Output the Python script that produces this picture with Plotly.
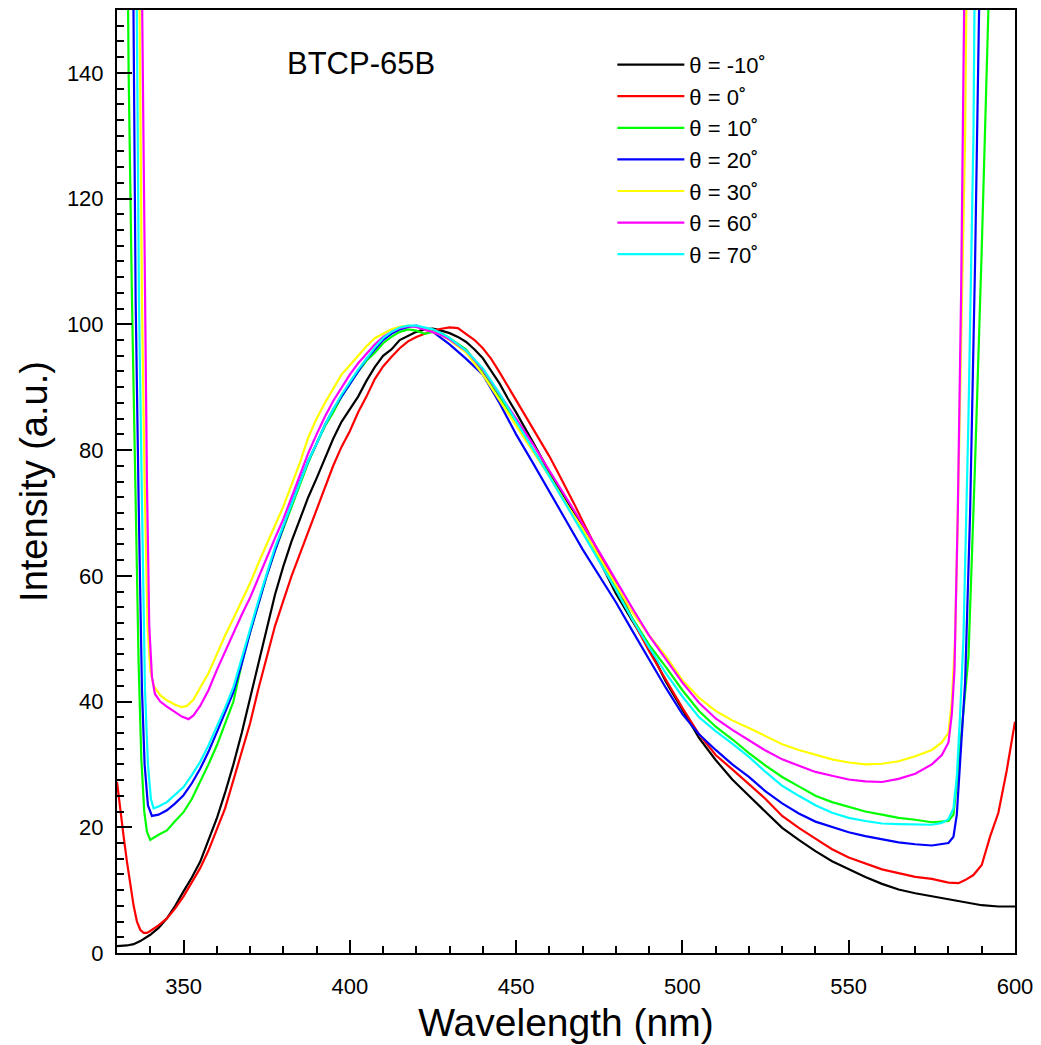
import plotly.graph_objects as go

# ---- data ----
labels = ["θ = -10˚", "θ = 0˚", "θ = 10˚", "θ = 20˚", "θ = 30˚", "θ = 60˚", "θ = 70˚"]
colors = ["#000000", "#ff0000", "#00ff00", "#0000ff", "#ffff00", "#ff00ff", "#00ffff"]

wl_m10 = [330, 333, 335, 337, 340, 342.5, 345, 347.5, 350, 352.5, 355, 357.5, 360, 362.5, 365, 367.5, 370, 372.5, 375, 377.5,
          380, 382.5, 385, 387.5, 390, 392.5, 395, 397.5, 400, 402.5, 405, 407.5, 410, 412.5, 415, 417.5, 420, 422.5, 425,
          427.5, 430, 432.5, 435, 437.5, 440, 442.5, 445, 447.5, 450, 455, 460, 465, 470, 475, 480, 485, 490, 495, 500,
          505, 510, 515, 520, 525, 530, 535, 540, 545, 550, 555, 560, 565, 570, 575, 580, 585, 590, 595, 600]
int_m10 = [1.1, 1.2, 1.4, 1.9, 2.9, 4.0, 5.5, 7.5, 9.8, 12.0, 14.5, 17.8, 21.4, 25.5, 30.0, 35.0, 40.4, 45.6, 51.5, 57.0,
           61.5, 65.5, 69.0, 72.5, 75.5, 78.8, 81.8, 84.5, 86.5, 88.5, 91.0, 93.2, 95.0, 96.0, 97.5, 98.2, 98.8, 99.2, 99.3,
           99.0, 98.6, 98.0, 97.2, 96.0, 94.6, 92.6, 90.6, 88.2, 86.0, 81.3, 76.5, 72.2, 67.8, 62.5, 57.2, 52.8, 48.5, 43.2, 38.6,
           34.2, 30.7, 27.6, 25.0, 22.4, 19.9, 18.0, 16.2, 14.6, 13.3, 12.1, 11.0, 10.1, 9.5, 9.0, 8.5, 8.0, 7.6, 7.4, 7.4]

wl_0 = [330, 331, 332, 333, 334, 335, 336, 337, 338, 339, 340, 342.5, 345, 347.5, 350, 352.5, 355, 357.5, 360, 362.5, 365,
        367.5, 370, 372.5, 375, 377.5, 380, 382.5, 385, 387.5, 390, 392.5, 395, 397.5, 400, 402.5, 405, 407.5, 410, 412.5,
        415, 417.5, 420, 422.5, 425, 427.5, 430, 432.5, 435, 437.5, 440, 442.5, 445, 447.5, 450, 452.5, 455, 457.5, 460,
        462.5, 465, 467.5, 470, 475, 480, 485, 490, 495, 500, 505, 510, 515, 520, 525, 530, 535, 540, 545, 550, 555, 560,
        565, 570, 575, 580, 583, 585, 587.5, 590, 592.5, 595, 597.5, 600]
int_0 = [27.2, 22.5, 18.5, 14.5, 10.8, 7.5, 5.0, 3.7, 3.2, 3.2, 3.5, 4.4, 5.5, 7.1, 9.0, 11.2, 13.5, 16.3, 19.5, 23.0, 27.5,
         31.8, 36.5, 42.0, 47.0, 52.0, 56.0, 60.0, 63.5, 67.0, 70.5, 74.0, 77.5, 80.5, 83.0, 86.0, 88.5, 91.3, 93.3, 94.8,
         96.2, 97.3, 98.0, 98.5, 99.0, 99.3, 99.5, 99.4, 98.5, 97.5, 96.2, 94.5, 92.4, 90.2, 88.0, 85.8, 83.6, 81.3, 79.0,
         76.5, 74.0, 71.4, 68.7, 63.5, 58.8, 53.0, 48.0, 43.5, 39.0, 34.8, 31.5, 29.2, 26.8, 24.5, 21.8, 19.9, 18.2, 16.5, 15.2,
         14.2, 13.3, 12.7, 12.1, 11.8, 11.2, 11.1, 11.6, 12.4, 14.0, 18.5, 22.3, 29.0, 36.8]

wl_10 = [333.0, 333.5, 334.5, 335.5, 336.5, 337.3, 338.2, 339, 340, 342.5, 345, 347.5, 350, 352.5, 355, 357.5, 360, 362.5,
         365, 367.5, 370, 372.5, 375, 377.5, 380, 382.5, 385, 387.5, 390, 392.5, 395, 397.5, 400, 402.5, 405, 407.5, 410,
         412.5, 415, 417.5, 420, 422.5, 425, 427.5, 430, 435, 440, 445, 450, 455, 460, 465, 470, 475, 480, 485, 490, 495,
         500, 505, 510, 515, 520, 525, 530, 535, 540, 545, 550, 555, 560, 565, 570, 575, 580, 581.5, 582.5, 584, 586, 588,
         590, 592, 593]
int_10 = [170, 140, 104, 75, 46, 31, 22.5, 19.3, 18.0, 18.8, 19.5, 21.0, 22.4, 24.5, 27.2, 30.0, 33.0, 36.5,
          40.0, 46.0, 51.0, 55.5, 60.0, 64.0, 67.5, 71.0, 74.5, 78.0, 81.0, 83.8, 86.0, 88.5, 90.5, 92.5, 94.2, 95.5, 97.0,
          98.0, 98.8, 99.2, 99.0, 98.5, 98.8, 98.6, 97.8, 96.0, 92.5, 88.5, 84.5, 80.2, 76.0, 71.5, 67.0, 62.5, 58.0, 53.2,
          49.0, 45.5, 41.8, 38.5, 36.0, 34.0, 31.8, 29.8, 28.0, 26.5, 25.0, 24.0, 23.2, 22.5, 22.0, 21.5, 21.2, 20.8, 21.0,
          22.0, 27.0, 36.0, 47.0, 78.0, 112, 150, 175]

wl_20 = [334.6, 335.2, 335.6, 336.5, 337.5, 338.3, 339.3, 340.5, 342.5, 345, 347.5, 350, 352.5, 355, 357.5, 360, 362.5, 365,
         367.5, 370, 372.5, 375, 377.5, 380, 382.5, 385, 387.5, 390, 392.5, 395, 397.5, 400, 402.5, 405, 407.5, 410, 412.5,
         415, 417.5, 420, 422.5, 425, 427.5, 430, 435, 440, 445, 450, 455, 460, 465, 470, 475, 480, 485, 490, 495, 500, 505,
         510, 515, 520, 525, 530, 535, 540, 545, 550, 555, 560, 565, 570, 575, 580, 581.5, 582.5, 583.5, 585, 586.5, 588,
         589.2, 589.8]
int_20 = [175, 140, 104, 72, 42, 30, 23.5, 21.8, 22.0, 22.7, 23.8, 25.1, 27.0, 29.3, 32.0, 35.1, 38.2, 41.5,
          46.0, 51.0, 55.5, 60.0, 64.0, 67.8, 71.5, 75.0, 78.3, 81.0, 84.0, 86.5, 88.5, 90.5, 92.5, 94.5, 96.0, 97.5, 98.5,
          99.2, 99.6, 99.8, 99.3, 98.8, 97.8, 96.8, 94.5, 92.0, 87.5, 82.5, 78.0, 73.5, 68.8, 64.2, 60.0, 55.8, 51.2, 46.7, 42.2,
          38.0, 34.8, 32.3, 30.0, 28.0, 25.7, 23.8, 22.2, 20.9, 20.0, 19.2, 18.6, 18.1, 17.6, 17.3, 17.1, 17.5, 18.5, 22.0,
          30.0, 43.0, 70.0, 110, 150, 175]

wl_30 = [336.4, 336.9, 337.5, 338.3, 339.2, 340, 341, 343, 345, 347.5, 349.5, 351, 353, 355, 357.5, 360, 362.5, 365, 367.5,
         370, 372.5, 375, 377.5, 380, 382.5, 385, 387.5, 390, 392.5, 395, 397.5, 400, 402.5, 405, 407.5, 410, 412.5, 415,
         417.5, 420, 422.5, 425, 427.5, 430, 435, 440, 445, 450, 455, 460, 465, 470, 475, 480, 485, 490, 495, 500, 505, 510,
         515, 520, 525, 530, 535, 540, 545, 550, 555, 560, 565, 570, 575, 578, 580, 581, 582, 583, 584, 585, 585.8]
int_30 = [175, 140, 104, 75, 52, 45, 42.5, 41.0, 40.2, 39.5, 39.1, 39.3, 40.3, 42.2, 44.5, 47.5, 50.5, 53.2, 56.0,
          58.8, 62.0, 65.0, 68.0, 71.0, 74.5, 78.0, 82.0, 85.0, 87.5, 89.8, 92.0, 93.5, 95.0, 96.5, 97.8, 98.5, 99.2, 99.6,
          99.8, 99.7, 99.2, 98.8, 98.3, 97.5, 95.5, 92.0, 88.0, 84.0, 80.0, 75.8, 71.5, 67.5, 63.0, 58.7, 54.2, 50.5, 47.2,
          43.4, 40.6, 38.5, 37.0, 35.8, 34.5, 33.2, 32.3, 31.5, 30.8, 30.3, 30.0, 30.1, 30.5, 31.3, 32.3, 33.5, 35.0, 40.0,
          50.0, 75.0, 102, 130, 175]

wl_60 = [337.1, 337.7, 338.3, 339, 339.7, 340.5, 341.4, 343, 345, 347.5, 349.5, 351.5, 353, 355, 357.5, 360, 362.5, 365,
         367.5, 370, 372.5, 375, 377.5, 380, 382.5, 385, 387.5, 390, 392.5, 395, 397.5, 400, 402.5, 405, 407.5, 410, 412.5,
         415, 417.5, 420, 422.5, 425, 427.5, 430, 435, 440, 445, 450, 455, 460, 465, 470, 475, 480, 485, 490, 495, 500, 505,
         510, 515, 520, 525, 530, 535, 540, 545, 550, 555, 560, 565, 570, 575, 578, 580, 581, 581.8, 582.8, 583.8, 584.7,
         585.2]
int_60 = [175, 140, 104, 75, 52, 44, 41.2, 40.0, 39.2, 38.3, 37.6, 37.2, 37.8, 39.3, 41.8, 45.0, 48.0, 51.0,
          53.8, 56.5, 59.7, 63.0, 66.0, 69.0, 72.5, 76.0, 79.5, 82.5, 85.3, 87.8, 90.0, 92.0, 93.8, 95.3, 96.8, 98.0, 98.8,
          99.4, 99.7, 99.6, 99.2, 98.8, 98.3, 97.6, 95.8, 92.8, 89.0, 85.0, 81.0, 76.8, 72.5, 68.2, 63.8, 59.2, 54.8, 50.5,
          46.8, 43.0, 39.8, 37.3, 35.5, 33.8, 32.2, 30.8, 29.8, 28.8, 28.2, 27.6, 27.3, 27.2, 27.7, 28.5, 30.0, 31.5, 33.5,
          38.0, 45.0, 70.0, 105, 150, 175]

wl_70 = [335.6, 336.1, 336.6, 337.5, 338.4, 339.3, 340.2, 341, 342.5, 345, 347.5, 350, 352.5, 355, 357.5, 360, 362.5, 365,
         367.5, 370, 372.5, 375, 377.5, 380, 382.5, 385, 387.5, 390, 392.5, 395, 397.5, 400, 402.5, 405, 407.5, 410, 412.5,
         415, 417.5, 420, 422.5, 425, 427.5, 430, 435, 440, 445, 450, 455, 460, 465, 470, 475, 480, 485, 490, 495, 500, 505,
         510, 515, 520, 525, 530, 535, 540, 545, 550, 555, 560, 565, 570, 575, 578, 580, 581.5, 582.5, 583.5, 584.5, 586,
         587.5, 588.2]
int_70 = [175, 140, 104, 72, 42, 30, 24.5, 23.0, 23.3, 24.0, 25.2, 26.4, 28.3, 30.4, 33.0, 35.9, 39.0, 42.3,
          47.0, 51.5, 56.0, 60.3, 64.5, 68.0, 71.5, 75.0, 78.3, 81.0, 84.0, 86.5, 88.8, 90.8, 92.8, 94.5, 96.3, 97.8, 98.8,
          99.5, 99.8, 99.8, 99.5, 99.2, 98.6, 97.8, 95.8, 93.0, 89.0, 84.5, 80.2, 75.8, 71.2, 66.8, 62.3, 57.8, 53.0, 48.6,
          44.5, 40.8, 37.5, 35.3, 33.3, 31.2, 28.8, 26.6, 25.0, 23.5, 22.3, 21.5, 21.0, 20.6, 20.5, 20.4, 20.4, 20.7, 21.3,
          23.0, 28.0, 38.0, 50.0, 85.0, 130, 175]

wavelengths = [wl_m10, wl_0, wl_10, wl_20, wl_30, wl_60, wl_70]
intensities = [int_m10, int_0, int_10, int_20, int_30, int_60, int_70]

x_range = [330, 600]
y_range = [0, 150]
x_ticks = [350, 400, 450, 500, 550, 600]
y_ticks = [0, 20, 40, 60, 80, 100, 120, 140]

FONT = "Liberation Sans, Arial, Helvetica, sans-serif"

fig = go.Figure()
for name, col, xs, ys in zip(labels, colors, wavelengths, intensities):
    fig.add_trace(go.Scatter(x=xs, y=ys, mode="lines", name=name,
                             line=dict(color=col, width=2.2)))

axis_common = dict(showline=True, linecolor="black", linewidth=2, mirror=True,
                   ticks="inside", tickcolor="black", tickwidth=1.5,
                   showgrid=False, zeroline=False,
                   tickfont=dict(family=FONT, size=22, color="black"))

fig.update_xaxes(range=x_range, tickvals=x_ticks, ticklen=13,
                 minor=dict(dtick=10, ticks="inside", ticklen=7, tickcolor="black", tickwidth=1.5),
                 title=dict(text="Wavelength (nm)", font=dict(family=FONT, size=39, color="black"), standoff=10),
                 ticklabelstandoff=13,
                 **axis_common)
fig.update_yaxes(range=y_range, tickvals=y_ticks, ticklen=15,
                 minor=dict(dtick=2.5, ticks="inside", ticklen=7, tickcolor="black", tickwidth=1.5),
                 title=dict(text="Intensity (a.u.)", font=dict(family=FONT, size=38, color="black"), standoff=8),
                 ticklabelstandoff=7,
                 **axis_common)

fig.add_annotation(text="BTCP-65B", xref="paper", yref="paper",
                   x=(362 - 117) / 901, y=(956 - 62) / 948, xanchor="center", yanchor="middle",
                   showarrow=False, font=dict(family=FONT, size=31, color="black"))

fig.update_layout(
    width=1041, height=1045,
    margin=dict(l=117, r=23, t=8, b=89),
    paper_bgcolor="white", plot_bgcolor="white",
    showlegend=True,
    legend=dict(x=(614 - 117) / 901, y=(956 - 42) / 948, xanchor="left", yanchor="top",
                bgcolor="rgba(0,0,0,0)", borderwidth=0, itemwidth=67,
                font=dict(family=FONT, size=22, color="black")),
)

fig.write_html("out.html")
